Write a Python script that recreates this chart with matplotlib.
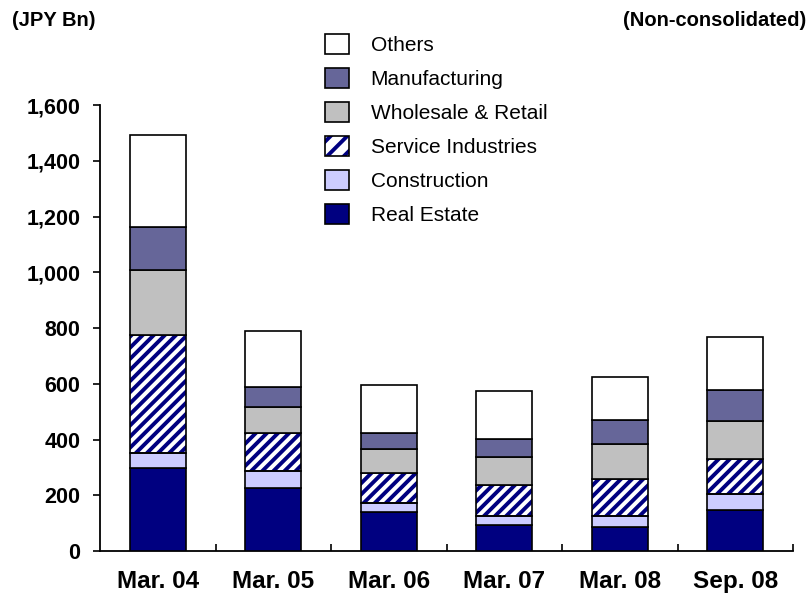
import matplotlib
matplotlib.use("Agg")
import matplotlib.pyplot as plt
import numpy as np
from matplotlib.patches import Patch
from matplotlib.legend_handler import HandlerTuple
from matplotlib.ticker import FuncFormatter, FixedLocator

# ---------------------------------------------------------------------
# General settings
# ---------------------------------------------------------------------
plt.rcParams['font.family'] = ['Liberation Sans', 'DejaVu Sans']
plt.rcParams['hatch.linewidth'] = 2.8

# ---------------------------------------------------------------------
# Data (JPY Bn, non-consolidated)
# ---------------------------------------------------------------------
periods = ["Mar. 04", "Mar. 05", "Mar. 06", "Mar. 07", "Mar. 08", "Sep. 08"]
real_estate = [297, 227, 141, 95, 87, 147]
construction = [56, 61, 30, 31, 39, 58]
service = [422, 134, 110, 110, 134, 124]
wholesale = [234, 94, 86, 103, 123, 139]
manufacturing = [155, 72, 55, 62, 87, 110]
others = [330, 203, 173, 172, 156, 191]

series = [
  ("Real Estate", real_estate, "#000080", None),
  ("Construction", construction, "#CCCCFF", None),
  ("Service Industries", service, "white", "///"),
  ("Wholesale & Retail", wholesale, "#C0C0C0", None),
  ("Manufacturing", manufacturing, "#666699", None),
  ("Others", others, "white", None),
]

# ---------------------------------------------------------------------
# Plot
# ---------------------------------------------------------------------
fig = plt.figure(figsize=(8.12, 5.94), dpi=100)
ax = fig.add_axes([0.1232, 0.0724, 0.8534, 0.7508])

x = np.arange(len(periods))
width = 0.485
bottom = np.zeros(len(periods))
handles = []

for name, vals, color, hatch in series:
  vals = np.array(vals, dtype=float)
  if hatch:
    # hatch drawn in navy, outline drawn on top in black
    ax.bar(x, vals, width, bottom=bottom, color=color, hatch=hatch,
           edgecolor="#000080", linewidth=0, zorder=2)
    ax.bar(x, vals, width, bottom=bottom, facecolor="none",
           edgecolor="black", linewidth=1.2, zorder=3)
    h = (Patch(facecolor=color, hatch="//", edgecolor="#000080", linewidth=0),
         Patch(facecolor="none", edgecolor="black", linewidth=1.2))
  else:
    ax.bar(x, vals, width, bottom=bottom, color=color,
           edgecolor="black", linewidth=1.2, zorder=3)
    h = Patch(facecolor=color, edgecolor="black", linewidth=1.2)
  handles.append((h, name))
  bottom += vals

# axes styling
ax.set_xlim(-0.5, len(periods) - 0.5)
ax.set_ylim(0, 1600)
for s in ["top", "right"]:
  ax.spines[s].set_visible(False)
for s in ["left", "bottom"]:
  ax.spines[s].set_linewidth(1.3)

ax.set_yticks(np.arange(0, 1601, 200))
ax.yaxis.set_major_formatter(FuncFormatter(lambda v, p: f"{int(v):,}"))
ax.tick_params(axis="y", direction="out", length=5, width=1.2, pad=9,
               labelsize=15.5)
for lbl in ax.get_yticklabels():
  lbl.set_fontweight("bold")

ax.set_xticks(x)
ax.set_xticklabels(periods, fontsize=17.5, fontweight="bold")
ax.tick_params(axis="x", which="major", length=0, pad=14)
ax.xaxis.set_minor_locator(FixedLocator(np.arange(0.5, len(periods), 1.0)))
ax.tick_params(axis="x", which="minor", direction="in", length=5, width=1.2)

# legend (top to bottom: Others ... Real Estate)
hs = [h for h, n in reversed(handles)]
ns = [n for h, n in reversed(handles)]
leg = fig.legend(hs, ns, loc="upper left", bbox_to_anchor=(0.400, 0.943),
                 frameon=False, fontsize=15, handlelength=1.15,
                 handleheight=1.1, handletextpad=1.05, labelspacing=0.62,
                 borderaxespad=0, borderpad=0,
                 handler_map={tuple: HandlerTuple(ndivide=1, pad=0)})

fig.text(0.015, 0.965, "(JPY Bn)", fontsize=14.5, fontweight="bold",
         ha="left", va="center")
fig.text(0.993, 0.965, "(Non-consolidated)", fontsize=14.5, fontweight="bold",
         ha="right", va="center")

fig.savefig("out.png", dpi=100)
